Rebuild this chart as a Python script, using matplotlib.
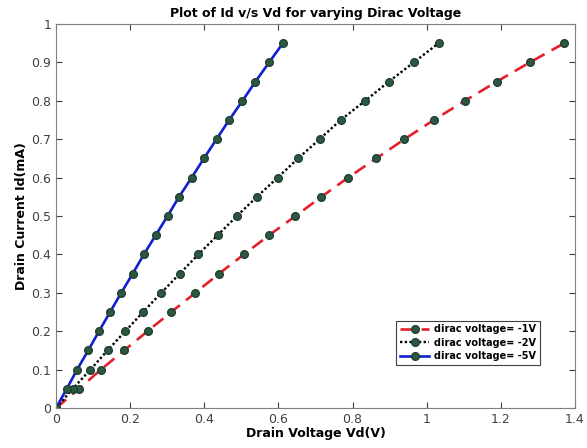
import numpy as np
import matplotlib
matplotlib.use("Agg")
import matplotlib.pyplot as plt

# Drain current values (mA), same for all three curves
Id = [0, 0.05, 0.1, 0.15, 0.2, 0.25, 0.3, 0.35, 0.4, 0.45,
      0.5, 0.55, 0.6, 0.65, 0.7, 0.75, 0.8, 0.85, 0.9, 0.95]

# Drain voltage (V)
Vd_1V = [0, 0.062, 0.121, 0.184, 0.247, 0.311, 0.376, 0.440, 0.507, 0.575,
         0.646, 0.716, 0.788, 0.864, 0.940, 1.019, 1.103, 1.189, 1.278, 1.371]
Vd_2V = [0, 0.045, 0.093, 0.139, 0.187, 0.235, 0.284, 0.334, 0.384, 0.436,
         0.488, 0.542, 0.598, 0.653, 0.711, 0.768, 0.834, 0.898, 0.965, 1.032]
Vd_5V = [0, 0.029, 0.057, 0.087, 0.116, 0.146, 0.176, 0.207, 0.237, 0.269,
         0.301, 0.332, 0.366, 0.399, 0.433, 0.467, 0.503, 0.538, 0.575, 0.612]

labels = ["dirac voltage= -1V", "dirac voltage= -2V", "dirac voltage= -5V"]

marker_kw = dict(marker="o", markersize=5.5, markerfacecolor="#2c5842",
                 markeredgecolor="#1f4030", markeredgewidth=1.0)

fig = plt.figure(figsize=(5.87, 4.48), dpi=100)
ax = fig.add_axes([56 / 587, 1 - 408 / 448, 519 / 587, 384 / 448])

ax.plot(Vd_1V, Id, color="#e4202a", linestyle=(0, (5, 3)), linewidth=1.9,
        label=labels[0], **marker_kw)
ax.plot(Vd_2V, Id, color="black", linestyle=(0, (1, 1)), linewidth=1.7,
        label=labels[1], **marker_kw)
ax.plot(Vd_5V, Id, color="#1020d0", linestyle="-", linewidth=1.9,
        label=labels[2], **marker_kw)

ax.set_xlim(0, 1.4)
ax.set_ylim(0, 1)
ax.set_xticks(np.arange(0, 1.41, 0.2))
ax.set_yticks(np.arange(0, 1.01, 0.1))
ax.set_xticklabels(["0", "0.2", "0.4", "0.6", "0.8", "1", "1.2", "1.4"])
ax.set_yticklabels(["0", "0.1", "0.2", "0.3", "0.4", "0.5", "0.6", "0.7",
                    "0.8", "0.9", "1"])

ax.tick_params(direction="in", top=True, right=True, length=4,
               labelsize=9, colors="#404040", width=0.8)
for s in ax.spines.values():
    s.set_color("#808080")
    s.set_linewidth(0.8)

ax.set_xlabel("Drain Voltage Vd(V)", fontsize=9, fontweight="bold", labelpad=1)
ax.set_ylabel("Drain Current Id(mA)", fontsize=9, fontweight="bold", labelpad=2)
ax.set_title("Plot of Id v/s Vd for varying Dirac Voltage", fontsize=9,
             fontweight="bold", pad=5)

leg = ax.legend(loc="lower right", bbox_to_anchor=(0.942, 0.099),
                prop={"size": 7, "weight": "bold"}, fancybox=False,
                framealpha=1, edgecolor="#404040", borderpad=0.4,
                handlelength=3.0, handletextpad=0.5, labelspacing=0.35)
leg.get_frame().set_linewidth(0.8)

fig.savefig("out.png", dpi=100)
